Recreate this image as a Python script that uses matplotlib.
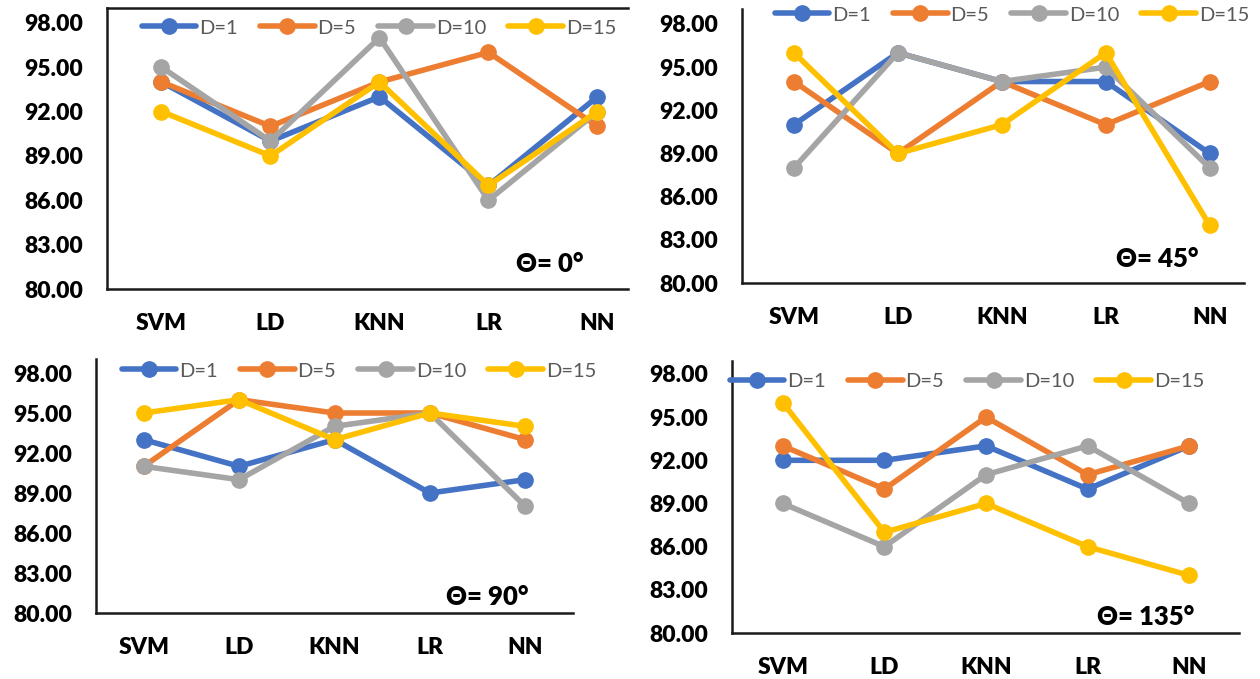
import matplotlib
matplotlib.use("Agg")
import matplotlib.pyplot as plt
import numpy as np

plt.rcParams['font.family'] = ['Lato', 'DejaVu Sans']

# data
models = ["SVM", "LD", "KNN", "LR", "NN"]
series = ["D=1", "D=5", "D=10", "D=15"]
angles = ["0°", "45°", "90°", "135°"]

acc_0 = [[94, 90, 93, 87, 93],
         [94, 91, 94, 96, 91],
         [95, 90, 97, 86, 92],
         [92, 89, 94, 87, 92]]
acc_45 = [[91, 96, 94, 94, 89],
          [94, 89, 94, 91, 94],
          [88, 96, 94, 95, 88],
          [96, 89, 91, 96, 84]]
acc_90 = [[93, 91, 93, 89, 90],
          [91, 96, 95, 95, 93],
          [91, 90, 94, 95, 88],
          [95, 96, 93, 95, 94]]
acc_135 = [[92, 92, 93, 90, 93],
           [93, 90, 95, 91, 93],
           [89, 86, 91, 93, 89],
           [96, 87, 89, 86, 84]]
y_ticks = [80, 83, 86, 89, 92, 95, 98]

colors = ["#4472C4", "#ED7D31", "#A5A5A5", "#FFC000"]

W, H = 1260, 679
# (left, right, top, bottom) in pixels, xmax, ymax, legend (x, y), label (x, baseline), top spine
layout = [
    ((107, 628, 8, 289), 4.28, 99.0, (142, 28), (516, 272), True),
    ((742, 1244, 9, 283), 4.33, 99.04, (775, 15), (1116, 267), False),
    ((96, 573, 359, 613), 4.5, 99.05, (122, 371), (446, 605), False),
    ((732, 1239, 361, 633), 4.49, 98.9, (730, 381), (1097, 625), False),
]
panels = [acc_0, acc_45, acc_90, acc_135]

fig = plt.figure(figsize=(W / 100, H / 100), dpi=100)

for data, angle, (box, xmax, ymax, leg, lab, top) in zip(panels, angles, layout):
    l, r, t, b = box
    ax = fig.add_axes([l / W, 1 - b / H, (r - l) / W, (b - t) / H])
    x = np.arange(len(models))
    for vals, name, c in zip(data, series, colors):
        ax.plot(x, vals, color=c, lw=4, marker='o', ms=11, label=name,
                solid_capstyle='round')
    ax.set_xlim(-0.5, xmax)
    ax.set_ylim(80, ymax)
    ax.set_xticks(x)
    ax.set_xticklabels(models)
    ax.set_yticks(y_ticks)
    ax.set_yticklabels([f"{v:.2f}" for v in y_ticks])
    ax.tick_params(axis='x', length=0, pad=17, labelsize=16.5)
    ax.tick_params(axis='y', length=0, pad=17, labelsize=16.5)
    for tl in ax.get_xticklabels() + ax.get_yticklabels():
        tl.set_fontweight('heavy')
    ax.spines['right'].set_visible(False)
    ax.spines['top'].set_visible(top)
    for s in ax.spines.values():
        s.set_linewidth(1.8)
        s.set_color('#1a1a1a')

    lg = ax.legend(loc='center left', bbox_to_anchor=(leg[0] / W, 1 - leg[1] / H),
                   bbox_transform=fig.transFigure, ncol=4, frameon=False,
                   fontsize=14.5, handlelength=2.7, handletextpad=0.15,
                   columnspacing=1.1, borderpad=0, borderaxespad=0)
    for txt in lg.get_texts():
        txt.set_color('#595959')

    fig.text(lab[0] / W, 1 - lab[1] / H, "Θ= " + angle, fontsize=18.5,
             fontweight='heavy', va='baseline', ha='left')

fig.savefig("out.png", dpi=100)
